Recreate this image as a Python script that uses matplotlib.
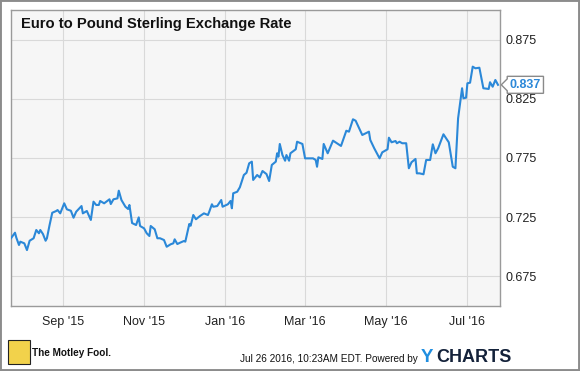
import matplotlib
matplotlib.use("Agg")
import matplotlib.pyplot as plt
import matplotlib.dates as mdates
from matplotlib.path import Path
from matplotlib.patches import Rectangle
import pandas as pd

plt.rcParams['font.family'] = ['Liberation Sans', 'DejaVu Sans']

# EUR/GBP rate
dates = [
    '2015-07-24', '2015-07-27', '2015-07-28', '2015-07-30', '2015-07-31', '2015-08-03',
    '2015-08-05', '2015-08-07', '2015-08-10', '2015-08-12', '2015-08-14', '2015-08-15',
    '2015-08-17', '2015-08-19', '2015-08-20', '2015-08-22', '2015-08-24', '2015-08-27',
    '2015-08-28', '2015-08-30', '2015-09-02', '2015-09-04', '2015-09-07', '2015-09-09',
    '2015-09-11', '2015-09-15', '2015-09-16', '2015-09-19', '2015-09-22', '2015-09-24',
    '2015-09-26', '2015-09-28', '2015-09-29', '2015-10-02', '2015-10-06', '2015-10-07',
    '2015-10-09', '2015-10-12', '2015-10-13', '2015-10-15', '2015-10-18', '2015-10-20',
    '2015-10-21', '2015-10-23', '2015-10-26', '2015-10-28', '2015-10-29', '2015-11-01',
    '2015-11-03', '2015-11-05', '2015-11-06', '2015-11-09', '2015-11-11', '2015-11-13',
    '2015-11-16', '2015-11-18', '2015-11-21', '2015-11-23', '2015-11-24', '2015-11-26',
    '2015-11-28', '2015-12-01', '2015-12-02', '2015-12-05', '2015-12-06', '2015-12-08',
    '2015-12-10', '2015-12-13', '2015-12-16', '2015-12-19', '2015-12-20', '2015-12-22',
    '2015-12-23', '2015-12-26', '2015-12-29', '2015-12-30', '2016-01-03', '2016-01-05',
    '2016-01-06', '2016-01-07', '2016-01-10', '2016-01-12', '2016-01-15', '2016-01-17',
    '2016-01-19', '2016-01-21', '2016-01-22', '2016-01-25', '2016-01-27', '2016-01-29',
    '2016-02-01', '2016-02-03', '2016-02-05', '2016-02-08', '2016-02-09', '2016-02-10',
    '2016-02-11', '2016-02-13', '2016-02-15', '2016-02-16', '2016-02-18', '2016-02-19',
    '2016-02-23', '2016-02-24', '2016-02-28', '2016-03-01', '2016-03-07', '2016-03-09',
    '2016-03-10', '2016-03-11', '2016-03-14', '2016-03-15', '2016-03-18', '2016-03-22',
    '2016-03-28', '2016-04-01', '2016-04-03', '2016-04-06', '2016-04-08', '2016-04-13',
    '2016-04-18', '2016-04-19', '2016-04-22', '2016-04-26', '2016-04-28', '2016-05-02',
    '2016-05-03', '2016-05-05', '2016-05-08', '2016-05-09', '2016-05-11', '2016-05-13',
    '2016-05-16', '2016-05-18', '2016-05-20', '2016-05-23', '2016-05-24', '2016-05-26',
    '2016-05-29', '2016-05-31', '2016-06-03', '2016-06-05', '2016-06-07', '2016-06-09',
    '2016-06-13', '2016-06-17', '2016-06-20', '2016-06-22', '2016-06-24', '2016-06-27',
    '2016-06-28', '2016-06-30', '2016-07-01', '2016-07-03', '2016-07-05', '2016-07-07',
    '2016-07-10', '2016-07-13', '2016-07-17', '2016-07-18', '2016-07-20', '2016-07-22',
    '2016-07-24',
]
rates = [
    0.7070, 0.7117, 0.7075, 0.7013, 0.7041, 0.7027,
    0.6970, 0.7049, 0.7070, 0.7140, 0.7112, 0.7140,
    0.7106, 0.7049, 0.7070, 0.7182, 0.7286, 0.7301,
    0.7309, 0.7281, 0.7366, 0.7315, 0.7303, 0.7244,
    0.7295, 0.7343, 0.7281, 0.7301, 0.7225, 0.7380,
    0.7352, 0.7352, 0.7386, 0.7366, 0.7400, 0.7360,
    0.7400, 0.7408, 0.7473, 0.7394, 0.7337, 0.7318,
    0.7352, 0.7199, 0.7182, 0.7247, 0.7174, 0.7154,
    0.7112, 0.7089, 0.7174, 0.7146, 0.7070, 0.7070,
    0.7055, 0.6998, 0.7019, 0.7027, 0.7061, 0.7021,
    0.7032, 0.7047, 0.7041, 0.7191, 0.7176, 0.7267,
    0.7231, 0.7258, 0.7281, 0.7267, 0.7295, 0.7358,
    0.7337, 0.7343, 0.7394, 0.7337, 0.7358, 0.7386,
    0.7324, 0.7451, 0.7464, 0.7502, 0.7606, 0.7625,
    0.7705, 0.7719, 0.7564, 0.7606, 0.7586, 0.7640,
    0.7614, 0.7555, 0.7691, 0.7719, 0.7790, 0.7761,
    0.7869, 0.7775, 0.7727, 0.7775, 0.7727, 0.7790,
    0.7824, 0.7888, 0.7869, 0.7747, 0.7747, 0.7733,
    0.7676, 0.7756, 0.7742, 0.7869, 0.7790, 0.7897,
    0.7852, 0.7981, 0.7973, 0.8078, 0.8066, 0.7945,
    0.7973, 0.7903, 0.7832, 0.7747, 0.7798, 0.7824,
    0.7922, 0.7883, 0.7894, 0.7875, 0.7888, 0.7875,
    0.7875, 0.7663, 0.7714, 0.7742, 0.7620, 0.7620,
    0.7612, 0.7733, 0.7733, 0.7866, 0.7790, 0.7832,
    0.7951, 0.7883, 0.7676, 0.7663, 0.8086, 0.8341,
    0.8256, 0.8261, 0.8383, 0.8388, 0.8524, 0.8510,
    0.8515, 0.8341, 0.8335, 0.8392, 0.8354, 0.8411,
    0.8370,
]
y_ticks = [0.675, 0.725, 0.775, 0.825, 0.875]

title = "Euro to Pound Sterling Exchange Rate"
stamp = "Jul 26 2016, 10:23AM EDT. Powered by"

line_color = '#2b88d8'
grid_color = '#d9d9d9'
frame_color = '#9a9a9a'


def tag_box(x0, y0, width, height, mutation_size):
    # box with a small pointer on the left, like the ycharts value tag
    pad = 0.2 * mutation_size
    x0, y0 = x0 - pad, y0 - pad
    x1, y1 = x0 + width + 2 * pad, y0 + height + 2 * pad
    h = y1 - y0
    tip = h * 0.35
    verts = [(x0, y0), (x1, y0), (x1, y1), (x0, y1),
             (x0, y0 + h * 0.85), (x0 - tip, y0 + h * 0.5),
             (x0, y0 + h * 0.15), (x0, y0)]
    return Path(verts, closed=True)


x = pd.to_datetime(dates)

fig = plt.figure(figsize=(5.8, 3.71), dpi=100)
ax = fig.add_axes([11 / 580, 1 - 306 / 371, 489 / 580, 296 / 371])
ax.set_facecolor('#f6f6f6')

ax.plot(x, rates, color=line_color, linewidth=1.5, zorder=3)

ax.set_xlim(pd.Timestamp('2015-07-24'), pd.Timestamp('2016-07-25 12:00'))
ax.set_ylim(0.6496, 0.9004)

ax.xaxis.set_major_locator(mdates.MonthLocator(bymonth=[1, 3, 5, 7, 9, 11]))
ax.xaxis.set_major_formatter(mdates.DateFormatter("%b '%y"))
ax.set_yticks(y_ticks)
ax.set_yticklabels([f'{v:.3f}' for v in y_ticks])
ax.yaxis.tick_right()

ax.grid(True, color=grid_color, linewidth=0.8)
ax.set_axisbelow(True)
ax.tick_params(length=0, labelsize=9, colors='#222222')
ax.tick_params(axis='x', pad=7)
ax.tick_params(axis='y', pad=4)
for s in ax.spines.values():
    s.set_color(frame_color)
    s.set_linewidth(1.0)

ax.text(10 / 489, 1 - 18 / 296, title, transform=ax.transAxes,
        fontsize=10.6, fontweight='bold', color='#111111', va='baseline')

# last value tag
ax.annotate(f'{rates[-1]:.3f}', xy=(1, rates[-1]), xycoords=('axes fraction', 'data'),
            xytext=(7, 0), textcoords='offset points', ha='left', va='center',
            fontsize=9, fontweight='bold', color=line_color, zorder=5,
            bbox=dict(boxstyle=tag_box, fc='white', ec='#8a8a8a', lw=1.0))

# footer
fig.patches.append(Rectangle((8 / 580, 1 - 364 / 371), 22 / 580, 24 / 371,
                             transform=fig.transFigure, fc='#f2d24b', ec='#222222', lw=0.8))
fig.text(32 / 580, 1 - 356 / 371, 'The Motley Fool.', fontsize=7.2, fontweight='bold',
         color='#111111', va='baseline')
fig.text(418 / 580, 1 - 362 / 371, stamp, fontsize=7.2, color='#111111',
         ha='right', va='baseline')
fig.text(421 / 580, 1 - 362 / 371, 'Y', fontsize=13.5, fontweight='bold',
         color='#1f8ee0', va='baseline')
fig.text(436 / 580, 1 - 362 / 371, 'CHARTS', fontsize=13, fontweight='bold',
         color='#14223a', va='baseline')

# outer border
fig.patches.append(Rectangle((0, 0), 1, 1, transform=fig.transFigure,
                             fill=False, ec='#8c8c8c', lw=2.8))

fig.savefig('out.png', dpi=100)
